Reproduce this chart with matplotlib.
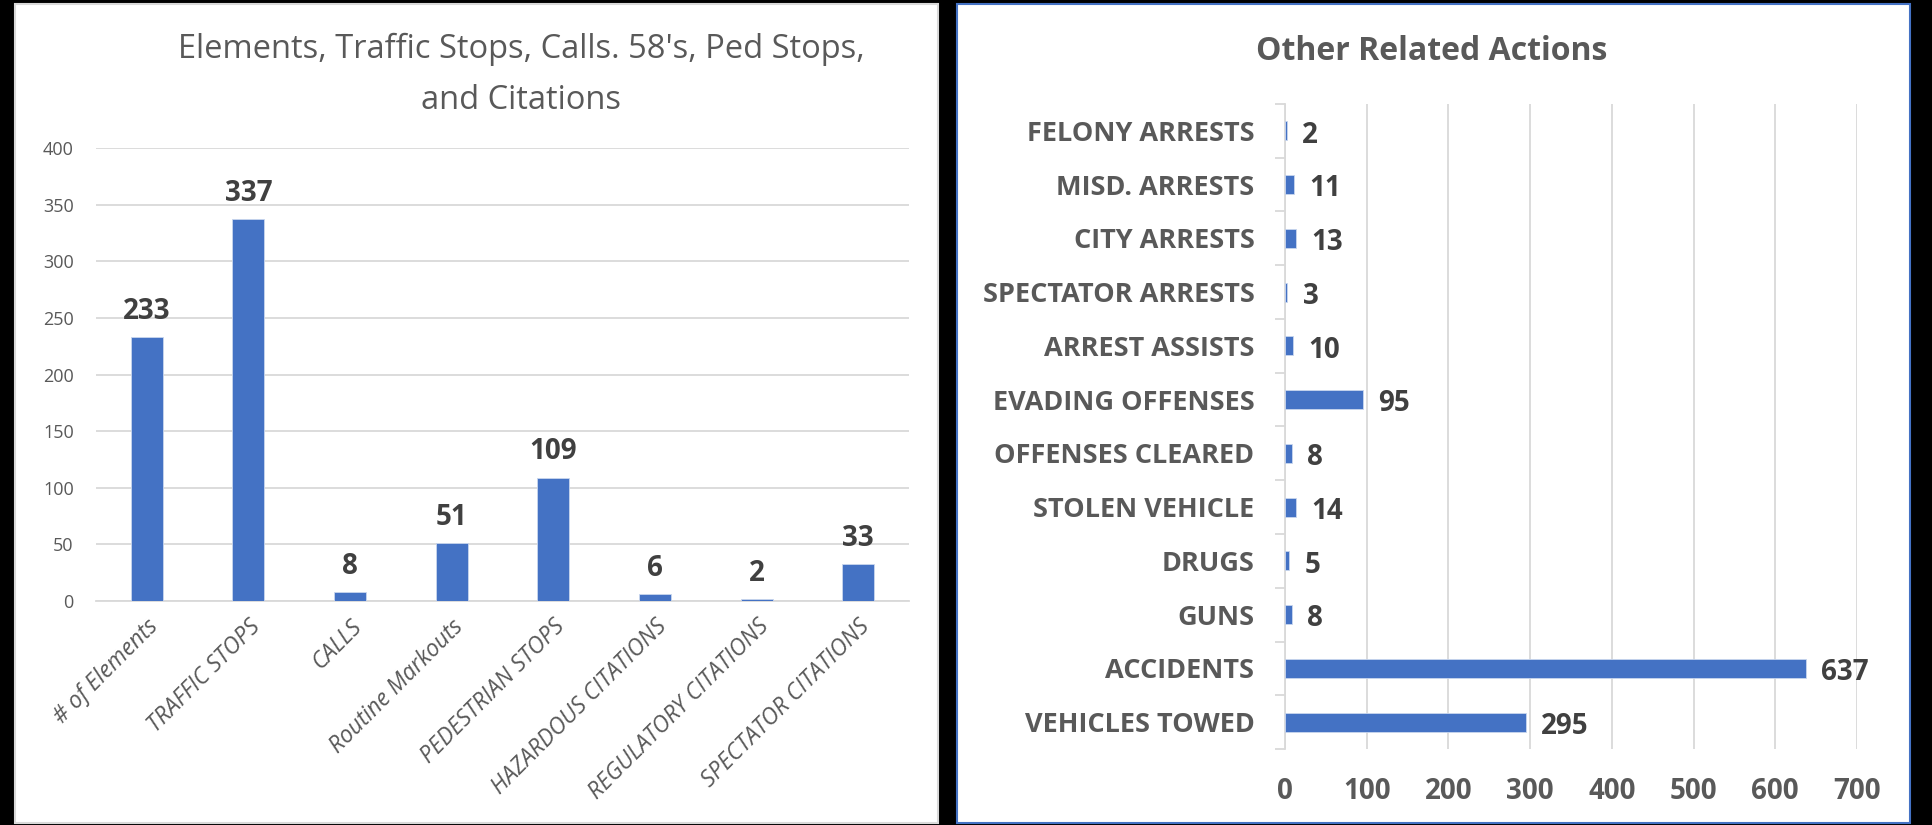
import matplotlib
matplotlib.use('Agg')
import matplotlib.pyplot as plt
from matplotlib.patches import Rectangle
import numpy as np

plt.rcParams['font.family'] = ['Open Sans', 'DejaVu Sans']

# left chart data
left_title = "Elements, Traffic Stops, Calls. 58's, Ped Stops,\nand Citations"
left_cats = ['# of Elements', 'TRAFFIC STOPS', 'CALLS', 'Routine Markouts',
             'PEDESTRIAN STOPS', 'HAZARDOUS CITATIONS', 'REGULATORY CITATIONS',
             'SPECTATOR CITATIONS']
left_vals = [233, 337, 8, 51, 109, 6, 2, 33]
left_yticks = [0, 50, 100, 150, 200, 250, 300, 350, 400]

# right chart data
right_title = "Other Related Actions"
right_cats = ['FELONY ARRESTS', 'MISD. ARRESTS', 'CITY ARRESTS', 'SPECTATOR ARRESTS',
              'ARREST ASSISTS', 'EVADING OFFENSES', 'OFFENSES CLEARED', 'STOLEN VEHICLE',
              'DRUGS', 'GUNS', 'ACCIDENTS', 'VEHICLES TOWED']
right_vals = [2, 11, 13, 3, 10, 95, 8, 14, 5, 8, 637, 295]
right_xticks = [0, 100, 200, 300, 400, 500, 600, 700]

BLUE = '#4472C4'
GRID = '#d9d9d9'
TXT = '#595959'
LBL = '#404040'

W, H = 1932, 825
fig = plt.figure(figsize=(W / 100, H / 100), dpi=100)
fig.patch.set_facecolor('black')

# panel backgrounds (behind the axes)
fig.patches.append(Rectangle((15 / W, 2 / H), 923 / W, 819 / H, transform=fig.transFigure,
                             facecolor='white', edgecolor=GRID, linewidth=1.5, zorder=-5))
fig.patches.append(Rectangle((957 / W, 2 / H), 953 / W, 819 / H, transform=fig.transFigure,
                             facecolor='white', edgecolor=BLUE, linewidth=1.5, zorder=-5))

# ---- left column chart ----
ax1 = fig.add_axes([96 / W, 1 - 601 / H, 813 / W, 453 / H])
ax1.patch.set_alpha(0)
x = np.arange(len(left_cats))
ax1.bar(x, left_vals, width=0.315, color=BLUE, edgecolor='#c9d6ee', linewidth=0.6, zorder=3)
for xi, v in zip(x, left_vals):
    ax1.annotate(str(v), (xi, v), xytext=(0, 8), textcoords='offset points',
                 ha='center', va='bottom', fontsize=20, fontweight='bold', color=LBL)
ax1.set_xlim(-0.5, len(left_cats) - 0.5)
ax1.set_ylim(0, 400)
ax1.set_yticks(left_yticks)
ax1.yaxis.grid(True, color=GRID, linewidth=1.3, zorder=0)
ax1.set_axisbelow(True)
for s in ['top', 'right', 'left']:
    ax1.spines[s].set_visible(False)
ax1.spines['bottom'].set_color(GRID)
ax1.spines['bottom'].set_linewidth(1.3)
ax1.tick_params(axis='y', length=0, pad=16, labelsize=13, labelcolor=TXT)
ax1.tick_params(axis='x', length=0, pad=10)
ax1.set_xticks(x)
ax1.set_xticklabels(left_cats, rotation=45, ha='right', rotation_mode='anchor',
                    fontsize=16.5, color=TXT, style='italic')
fig.text(521 / W, 1 - 75 / H, left_title, ha='center', va='center', fontsize=23.5,
         color=TXT, linespacing=1.7)

# ---- right bar chart ----
ax2 = fig.add_axes([1285 / W, 1 - 749 / H, 572 / W, 645 / H])
ax2.patch.set_alpha(0)
y = np.arange(len(right_cats))
ax2.barh(y, right_vals, height=0.35, color=BLUE, edgecolor='#c9d6ee', linewidth=0.6, zorder=3)
for yi, v in zip(y, right_vals):
    ax2.annotate(str(v), (v, yi), xytext=(11, -3), textcoords='offset points',
                 ha='left', va='center', fontsize=20, fontweight='bold', color=LBL)
ax2.set_ylim(len(right_cats) - 0.5, -0.5)
ax2.set_xlim(0, 700)
ax2.set_xticks(right_xticks)
ax2.set_yticks(y)
ax2.set_yticklabels(right_cats, fontsize=19.5, fontweight='bold', color=TXT)
ax2.set_yticks(np.arange(-0.5, len(right_cats)), minor=True)
ax2.xaxis.grid(True, color=GRID, linewidth=1.3, zorder=0)
ax2.set_axisbelow(True)
for s in ['top', 'right', 'bottom']:
    ax2.spines[s].set_visible(False)
ax2.spines['left'].set_color(GRID)
ax2.spines['left'].set_linewidth(1.3)
ax2.tick_params(axis='y', which='major', length=0, pad=22)
ax2.tick_params(axis='y', which='minor', length=7, width=1.3, color=GRID)
ax2.tick_params(axis='x', length=0, pad=20, labelsize=20, labelcolor=TXT)
for lab in ax2.get_xticklabels():
    lab.set_fontweight('bold')
fig.text(1432 / W, 1 - 52 / H, right_title, ha='center', va='center', fontsize=23,
         fontweight='bold', color=TXT)

plt.savefig('out.png', dpi=100, facecolor=fig.get_facecolor())
plt.close()
